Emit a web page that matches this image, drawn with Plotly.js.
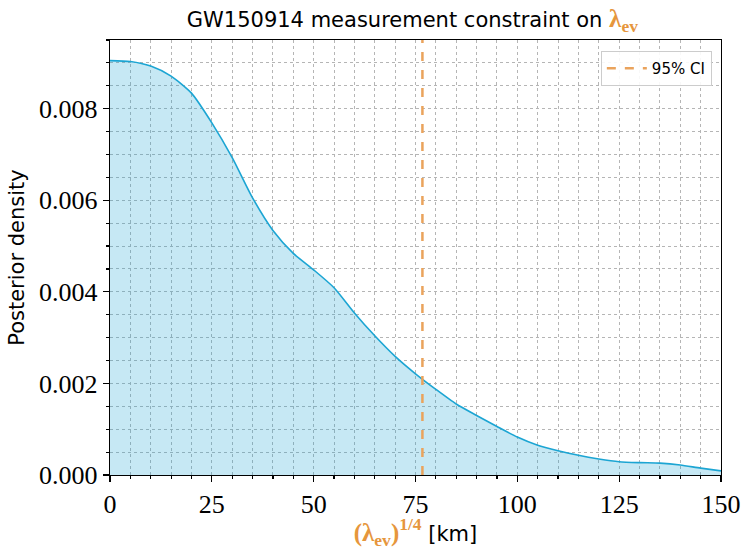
<!DOCTYPE html>
<html>
<head>
<meta charset="utf-8">
<script src="https://cdn.plot.ly/plotly-3.0.1.min.js"></script>
<style>html,body{margin:0;padding:0;background:#fff;}#chart{width:743px;height:550px;}</style>
</head>
<body>
<div id="chart"></div>
<script>
// lambda_ev^(1/4) in km
const lambdaKm = [0, 5, 10, 15, 20, 25, 30, 35, 40, 45, 50, 55, 60, 65, 70, 75, 80, 85, 90, 95, 100, 105, 110, 115, 120, 125, 130, 135, 140, 145, 150];
// posterior density
const density = [0.00905, 0.00903, 0.00893, 0.00871, 0.00834, 0.00769, 0.00693, 0.00605, 0.00534, 0.00484, 0.00448, 0.00409, 0.00354, 0.00304, 0.00259, 0.00221, 0.00187, 0.00155, 0.00130, 0.00106, 0.00083, 0.00065, 0.00053, 0.00043, 0.00035, 0.00029, 0.00027, 0.00026, 0.00022, 0.00015, 0.00009];
const ci95 = 76.7;
const ciLabel = '95% CI';
const yMax = 0.0095;

const orange = '#e6963c';
const serif = 'Liberation Serif, Times New Roman, serif';
const sans = 'DejaVu Sans, sans-serif';

const traces = [
  {
    x: lambdaKm, y: density, type: 'scatter', mode: 'lines',
    line: {color: '#1ca5d3', width: 1.6, shape: 'spline', smoothing: 0.65},
    fill: 'tozeroy', fillcolor: 'rgba(28,165,211,0.25)',
    showlegend: false, hoverinfo: 'skip'
  },
  {
    x: [ci95, ci95], y: [0, yMax], type: 'scatter', mode: 'lines',
    line: {color: '#eaa35c', width: 2.5, dash: 'dash'},
    name: ciLabel, showlegend: true
  }
];

const axisCommon = {
  showline: true, linecolor: '#000', linewidth: 1.2, mirror: true,
  ticks: 'outside', ticklen: 6, tickwidth: 1.2, tickcolor: '#000',
  showgrid: true, gridcolor: '#b5b5b5', gridwidth: 1, griddash: 'dot',
  zeroline: false,
  tickfont: {family: serif, size: 26, color: '#000'}
};

const layout = {
  width: 743, height: 550,
  margin: {l: 110, r: 22, t: 40, b: 75},
  paper_bgcolor: '#fff', plot_bgcolor: '#fff',
  title: {
    text: 'GW150914 measurement constraint on <span style="font-family:Liberation Serif;font-size:25px;color:' + orange + '"><b>λ<sub>ev</sub></b></span>',
    font: {family: sans, size: 21, color: '#000'},
    x: 0.555, xanchor: 'center', y: 0.965, yanchor: 'middle'
  },
  xaxis: Object.assign({}, axisCommon, {
    range: [0, 150], dtick: 25, tick0: 0,
    minor: {dtick: 5, ticks: 'outside', ticklen: 3, tickcolor: '#000', showgrid: true, gridcolor: '#b5b5b5', griddash: 'dot', gridwidth: 1},
    title: {
      text: '<span style="font-family:Liberation Serif;font-size:25px;color:' + orange + '"><b>(λ<sub>ev</sub>)<sup>1/4</sup></b></span> [km]',
      font: {family: sans, size: 21, color: '#000'}, standoff: 15
    }
  }),
  yaxis: Object.assign({}, axisCommon, {
    range: [0, yMax], dtick: 0.002, tick0: 0, tickformat: '.3f',
    minor: {dtick: 0.0005, ticks: 'outside', ticklen: 3, tickcolor: '#000', showgrid: true, gridcolor: '#b5b5b5', griddash: 'dot', gridwidth: 1},
    title: {text: 'Posterior density', font: {family: sans, size: 21, color: '#000'}, standoff: 8}
  }),
  legend: {
    x: 0.985, y: 0.975, xanchor: 'right', yanchor: 'top',
    bgcolor: 'rgba(255,255,255,0.9)', bordercolor: '#cccccc', borderwidth: 1,
    itemwidth: 40,
    font: {family: sans, size: 15, color: '#000'}
  }
};

Plotly.newPlot('chart', traces, layout, {displayModeBar: false, staticPlot: true});
</script>
</body>
</html>
